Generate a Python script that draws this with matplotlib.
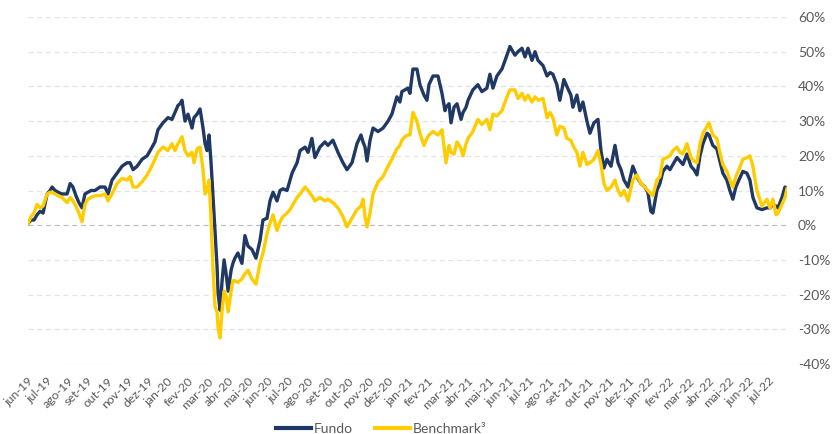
import matplotlib
matplotlib.use("Agg")
import matplotlib.pyplot as plt

# time in months since jun-19 (0 = start of jun-19)
months = [
    -0.15, 0.00, 0.15, 0.30, 0.45, 0.60, 0.80, 0.95, 1.05, 1.20, 1.35, 1.55, 1.70, 1.80, 1.95,
    2.09, 2.24, 2.39, 2.54, 2.69, 2.84, 2.99, 3.19, 3.44, 3.69, 3.84, 4.04, 4.29, 4.54, 4.79,
    4.94, 5.09, 5.29, 5.54, 5.79, 5.94, 6.18, 6.33, 6.58, 6.83, 7.03, 7.18, 7.33, 7.43, 7.53,
    7.68, 7.83, 8.03, 8.13, 8.28, 8.43, 8.58, 8.68, 8.78, 8.88, 8.98, 9.08, 9.18, 9.28, 9.33,
    9.43, 9.53, 9.63, 9.73, 9.83, 9.98, 10.07, 10.17, 10.32, 10.52, 10.67, 10.82, 11.02, 11.22,
    11.42, 11.57, 11.77, 11.92, 12.07, 12.27, 12.42, 12.57, 12.77, 12.92, 13.02, 13.27, 13.42,
    13.67, 13.82, 14.01, 14.16, 14.41, 14.66, 14.81, 15.06, 15.31, 15.56, 15.76, 16.01, 16.26,
    16.46, 16.56, 16.66, 16.76, 16.91, 17.06, 17.31, 17.56, 17.81, 18.00, 18.25, 18.40, 18.50,
    18.65, 18.80, 18.90, 19.05, 19.25, 19.40, 19.60, 19.75, 19.85, 20.05, 20.30, 20.50, 20.65,
    20.70, 20.85, 20.95, 21.10, 21.25, 21.45, 21.55, 21.70, 21.80, 22.04, 22.29, 22.49, 22.74,
    22.89, 23.04, 23.24, 23.49, 23.74, 23.89, 24.14, 24.29, 24.49, 24.64, 24.79, 24.99, 25.14,
    25.29, 25.54, 25.74, 25.89, 26.03, 26.23, 26.38, 26.58, 26.73, 26.93, 27.03, 27.23, 27.38,
    27.53, 27.73, 27.88, 28.08, 28.28, 28.43, 28.58, 28.73, 28.93, 29.13, 29.28, 29.43, 29.58,
    29.78, 30.02, 30.22, 30.42, 30.62, 30.77, 30.92, 31.02, 31.22, 31.37, 31.52, 31.72, 31.87,
    32.02, 32.22, 32.37, 32.52, 32.72, 32.92, 33.07, 33.22, 33.37, 33.52, 33.72, 33.82, 34.01,
    34.21, 34.36, 34.51, 34.71, 34.86, 35.01, 35.16, 35.31, 35.51, 35.71, 35.86, 36.01, 36.21,
    36.46, 36.71, 36.86, 37.01, 37.16, 37.26, 37.46, 37.61, 37.71,
]

fundo = [
    0.5, 1.5, 1.5, 3, 4, 3.5, 9, 10, 11, 10, 9.5, 9, 9, 9, 12,
    11, 8.5, 6.5, 5, 9, 9.5, 10, 10, 11, 11, 9, 13, 15, 17, 18,
    18, 16, 17, 19, 20, 21.5, 24, 27.5, 29.5, 31, 30.5, 32.5, 34.5, 35, 36,
    30, 32, 28, 31, 32, 33.5, 28, 23.5, 21.5, 26, 18, 8, -2.5, -12, -19.5,
    -24.5, -16, -10, -14, -19, -13, -11, -9.5, -8, -11, -3, -6, -7, -9.5,
    -4.5, 1.5, 2, 7, 9.5, 7, 10, 10.5, 10, 13, 15, 18, 21.5,
    22.5, 21, 25, 19.5, 22.5, 24, 23, 24.5, 21, 18, 16, 18, 23.5,
    26, 24, 22.5, 18.5, 24.5, 28, 27, 28, 30, 32, 37, 35.5, 38.5,
    39, 39.5, 38, 45, 45, 40.5, 37.5, 36, 40.5, 43, 43, 38, 33,
    34, 35, 29.5, 34, 35, 30.5, 32.5, 34, 36, 39, 40.5, 38.5, 39.5,
    43.5, 39.5, 43, 45, 49, 51.5, 49, 50, 51, 48.5, 51, 47.5, 50,
    47.5, 46, 43, 44, 43.5, 40.5, 36, 42, 40, 37.5, 34, 37.5, 33,
    35.5, 30, 26.5, 29.5, 30.5, 21.5, 16.5, 19, 17, 23, 18, 16, 13,
    11, 17, 14, 12, 11, 9.5, 4, 3.5, 10, 12, 15.5, 17, 16,
    17.5, 19.5, 18.5, 17.5, 20.5, 17, 16, 14.5, 20, 23.5, 26.5, 26, 23,
    22, 18.5, 15, 13, 10, 7.5, 11, 13, 15.5, 15, 13, 8, 5,
    4.5, 5, 5, 6, 5.5, 5, 8, 11, 10.5,
]

benchmark = [
    0.5, 2.5, 3.5, 6, 5, 5.5, 9, 9.5, 9.5, 9, 8.5, 8, 7, 6.5, 8,
    7, 5.5, 3.5, 1, 6, 7.5, 8, 8.5, 8.5, 9, 7, 9, 12, 13.5, 13,
    14, 11, 11, 12.5, 14.5, 16, 19, 21, 22.5, 21.5, 23.5, 21.5, 23.5, 24.5, 25.5,
    21.5, 20, 21, 18, 22, 22.5, 16, 9, 10, 13, 1.5, -13, -23.5, -25, -29.5,
    -32.5, -24.5, -19, -20.5, -25, -19, -16, -16, -16.5, -15.5, -14, -13, -15.5, -17,
    -11, -8, -2.5, 0.5, 3, -1.5, 1, 2.5, 3.5, 4.5, 5.5, 8, 9,
    11, 10, 8.5, 7, 8, 7, 7.5, 6.5, 5, 2.5, -0.5, 2, 4.5,
    5.5, 7.5, 2.5, -0.5, 3.5, 9, 12.5, 14, 17, 19, 22, 23, 24.5,
    25.5, 26, 26, 32.5, 30, 26.5, 23, 25, 26, 27, 26, 27.5, 20.5,
    18, 23, 21, 20.5, 24, 22, 20, 23.5, 25, 27, 30.5, 29, 30.5,
    27.5, 32, 31.5, 33, 37, 39, 39, 36.5, 38, 36, 37.5, 35.5, 37,
    36, 36.5, 31, 32.5, 31, 26, 28.5, 28, 25, 24.5, 23, 21, 17,
    21, 17.5, 18, 19, 21.5, 17.5, 12, 10, 11, 13, 10, 8.5, 10,
    7, 13, 14.5, 12, 11, 10, 9, 8.5, 13, 14, 19, 19.5, 20,
    21.5, 22.5, 21, 20.5, 23.5, 19.5, 18.5, 18, 23.5, 26.5, 28.5, 29.5, 26,
    25, 21, 17.5, 15.5, 13, 11, 14, 16, 19, 19.5, 20, 17, 10,
    5.5, 7.5, 5, 7.5, 3, 3.5, 6, 8, 10.5,
]

month_labels = [
    "jun-19", "jul-19", "ago-19", "set-19", "out-19", "nov-19", "dez-19",
    "jan-20", "fev-20", "mar-20", "abr-20", "mai-20", "jun-20", "jul-20", "ago-20",
    "set-20", "out-20", "nov-20", "dez-20", "jan-21", "fev-21", "mar-21", "abr-21",
    "mai-21", "jun-21", "jul-21", "ago-21", "set-21", "out-21", "nov-21", "dez-21",
    "jan-22", "fev-22", "mar-22", "abr-22", "mai-22", "jun-22", "jul-22",
]
y_ticks = list(range(-40, 61, 10))

navy = "#1f3864"
gold = "#ffcc00"
grey_text = "#595959"

plt.rcParams["font.family"] = ["Lato", "DejaVu Sans"]

fig = plt.figure(figsize=(8.32, 4.34), dpi=100)
ax = fig.add_axes([0.0337, 0.1613, 0.9122, 0.7995])

ax.plot(months, fundo, color=navy, lw=2.4, label="Fundo", solid_joinstyle="round", zorder=3)
ax.plot(months, benchmark, color=gold, lw=2.4, label="Benchmark³", solid_joinstyle="round", zorder=4)

ax.set_xlim(-0.15, 37.71)
ax.set_ylim(-40, 60)

# dashed grid, zero line a bit darker
for v in y_ticks:
    ax.axhline(v, color="#bfbfbf" if v == 0 else "#e4e4e4", lw=0.9,
               linestyle=(0, (4, 3)), zorder=1)

ax.yaxis.tick_right()
ax.set_yticks(y_ticks)
ax.set_yticklabels([f"{v}%" for v in y_ticks])
ax.set_xticks(range(len(month_labels)))
ax.set_xticklabels(month_labels, rotation=45, ha="right", va="center",
                   rotation_mode="anchor")
ax.tick_params(axis="y", length=0, pad=8, labelsize=10, labelcolor=grey_text)
ax.tick_params(axis="x", length=0, pad=11, labelsize=8.8, labelcolor=grey_text)

for s in ax.spines.values():
    s.set_visible(False)

leg = fig.legend(loc="center", ncol=2, frameon=False,
                 bbox_to_anchor=(0.4585, 0.0115), fontsize=10,
                 handlelength=2.5, handletextpad=0.2, columnspacing=1.6)
for t in leg.get_texts():
    t.set_color(grey_text)
for h in leg.get_lines():
    h.set_linewidth(3)

fig.savefig("out.png", dpi=100)
